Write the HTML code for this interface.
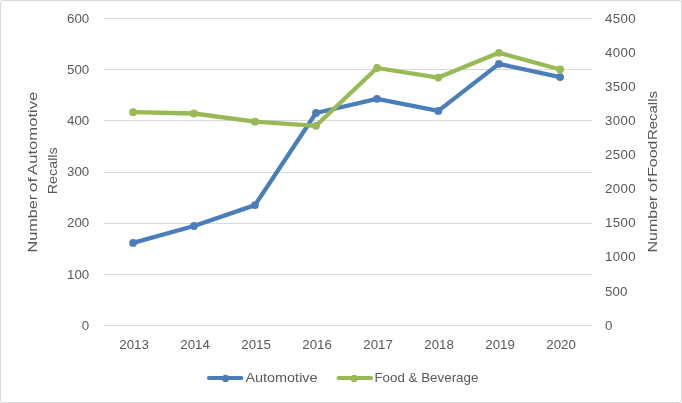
<!DOCTYPE html>
<html>
<head>
<meta charset="utf-8">
<title>Recalls chart</title>
<style>
html,body{margin:0;padding:0;background:#ffffff;}
body{width:682px;height:403px;overflow:hidden;font-family:"Liberation Sans",sans-serif;}
svg{display:block;will-change:transform;opacity:0.999;}
text{font-family:"Liberation Sans",sans-serif;fill:#595959;}
</style>
</head>
<body>
<svg width="682" height="403" viewBox="0 0 682 403">
  <rect x="0" y="0" width="682" height="403" fill="#ffffff"/>
  <!-- outer border -->
  <rect x="0.5" y="0.5" width="681" height="402" rx="2" ry="2" fill="none" stroke="#d9d9d9" stroke-width="1"/>

  <!-- gridlines -->
  <g stroke="#d9d9d9" stroke-width="1" shape-rendering="crispEdges">
    <line x1="103.7" x2="591.8" y1="18.5" y2="18.5"/>
    <line x1="103.7" x2="591.8" y1="69.5" y2="69.5"/>
    <line x1="103.7" x2="591.8" y1="120.5" y2="120.5"/>
    <line x1="103.7" x2="591.8" y1="172.5" y2="172.5"/>
    <line x1="103.7" x2="591.8" y1="223.5" y2="223.5"/>
    <line x1="103.7" x2="591.8" y1="274.5" y2="274.5"/>
    <line x1="103.7" x2="591.8" y1="325.5" y2="325.5"/>
  </g>

  <!-- left axis labels -->
  <g font-size="13.3" text-anchor="end">
    <text x="89.2" y="22.9">600</text>
    <text x="89.2" y="73.9">500</text>
    <text x="89.2" y="124.9">400</text>
    <text x="89.2" y="175.9">300</text>
    <text x="89.2" y="226.9">200</text>
    <text x="89.2" y="278.9">100</text>
    <text x="89.2" y="329.9">0</text>
  </g>

  <!-- right axis labels -->
  <g font-size="13.3" text-anchor="start" letter-spacing="0.35">
    <text x="605" y="22.9">4500</text>
    <text x="605" y="56.9">4000</text>
    <text x="605" y="90.9">3500</text>
    <text x="605" y="124.9">3000</text>
    <text x="605" y="158.9">2500</text>
    <text x="605" y="192.9">2000</text>
    <text x="605" y="226.9">1500</text>
    <text x="605" y="260.9">1000</text>
    <text x="605" y="295.9" letter-spacing="0.1">500</text>
    <text x="605" y="329.9">0</text>
  </g>

  <!-- x axis labels -->
  <g font-size="13.3" text-anchor="middle">
    <text x="134.1" y="349.2">2013</text>
    <text x="195.1" y="349.2">2014</text>
    <text x="256.1" y="349.2">2015</text>
    <text x="317.1" y="349.2">2016</text>
    <text x="378.1" y="349.2">2017</text>
    <text x="439.1" y="349.2">2018</text>
    <text x="500.1" y="349.2">2019</text>
    <text x="561.1" y="349.2">2020</text>
  </g>

  <!-- Automotive series -->
  <g fill="#4a7ebb" stroke="none">
    <polyline fill="none" stroke="#4a7ebb" stroke-width="4.3" stroke-linejoin="round" stroke-linecap="round"
      points="133.1,242.9 194.0,226.0 255.0,205.1 316.0,113.0 377.0,98.8 438.3,110.9 498.9,63.9 560.1,77.1"/>
    <circle cx="133.1" cy="242.9" r="3.9"/>
    <circle cx="194.0" cy="226.0" r="3.9"/>
    <circle cx="255.0" cy="205.1" r="3.9"/>
    <circle cx="316.0" cy="113.0" r="3.9"/>
    <circle cx="377.0" cy="98.8" r="3.9"/>
    <circle cx="438.3" cy="110.9" r="3.9"/>
    <circle cx="498.9" cy="63.9" r="3.9"/>
    <circle cx="560.1" cy="77.1" r="3.9"/>
  </g>

  <!-- Food &amp; Beverage series -->
  <g fill="#98b954" stroke="none">
    <polyline fill="none" stroke="#98b954" stroke-width="4.3" stroke-linejoin="round" stroke-linecap="round"
      points="133.1,112.2 194.0,113.5 255.0,121.7 316.0,125.8 377.0,68.0 438.3,77.6 498.9,52.8 560.1,69.5"/>
    <circle cx="133.1" cy="112.2" r="3.9"/>
    <circle cx="194.0" cy="113.5" r="3.9"/>
    <circle cx="255.0" cy="121.7" r="3.9"/>
    <circle cx="316.0" cy="125.8" r="3.9"/>
    <circle cx="377.0" cy="68.0" r="3.9"/>
    <circle cx="438.3" cy="77.6" r="3.9"/>
    <circle cx="498.9" cy="52.8" r="3.9"/>
    <circle cx="560.1" cy="69.5" r="3.9"/>
  </g>

  <!-- axis titles -->
  <g font-size="13.2">
    <text transform="translate(37.20,252.47) rotate(-90)" textLength="57.63" lengthAdjust="spacingAndGlyphs">Number</text>
    <text transform="translate(37.20,192.23) rotate(-90)" textLength="14.68" lengthAdjust="spacingAndGlyphs">of</text>
    <text transform="translate(37.20,174.91) rotate(-90)" textLength="83.27" lengthAdjust="spacingAndGlyphs">Automotive</text>
    <text transform="translate(57.20,194.26) rotate(-90)" textLength="46.96" lengthAdjust="spacingAndGlyphs">Recalls</text>
    <text transform="translate(657.20,252.47) rotate(-90)" textLength="56.89" lengthAdjust="spacingAndGlyphs">Number</text>
    <text transform="translate(657.20,192.13) rotate(-90)" textLength="14.13" lengthAdjust="spacingAndGlyphs">of</text>
    <text transform="translate(657.20,176.87) rotate(-90)" textLength="36.22" lengthAdjust="spacingAndGlyphs">Food</text>
    <text transform="translate(657.20,140.09) rotate(-90)" textLength="49.03" lengthAdjust="spacingAndGlyphs">Recalls</text>
  </g>

  <!-- legend -->
  <g>
    <line x1="208.9" x2="241.3" y1="378" y2="378" stroke="#4a7ebb" stroke-width="4.0" stroke-linecap="round"/>
    <circle cx="225.5" cy="378.4" r="3.6" fill="#4a7ebb"/>
    <text x="245.4" y="381.8" font-size="13.3" textLength="72.2" lengthAdjust="spacingAndGlyphs">Automotive</text>
    <line x1="338.5" x2="371.1" y1="378" y2="378" stroke="#98b954" stroke-width="4.0" stroke-linecap="round"/>
    <circle cx="354.3" cy="378.4" r="3.6" fill="#98b954"/>
    <text x="374.4" y="381.8" font-size="13.3" textLength="104" lengthAdjust="spacingAndGlyphs">Food &amp; Beverage</text>
  </g>
</svg>
</body>
</html>
